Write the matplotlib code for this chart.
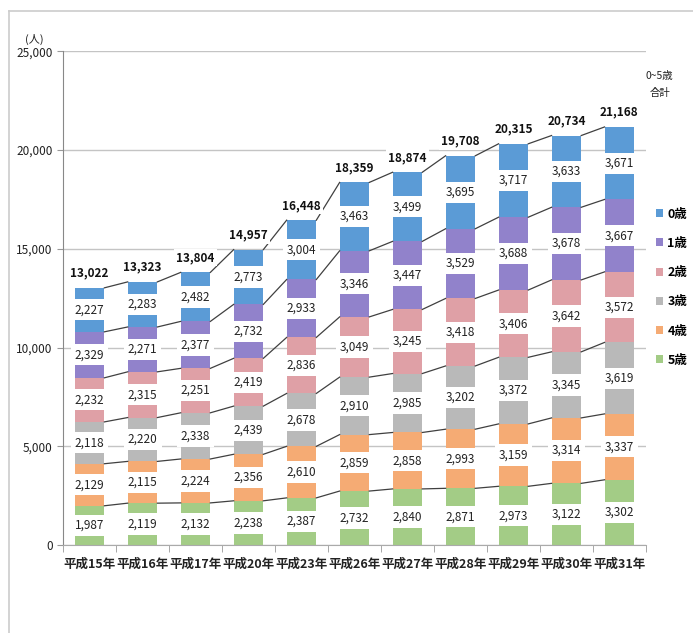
import matplotlib

matplotlib.use("Agg")
import matplotlib.pyplot as plt
from matplotlib.lines import Line2D
from matplotlib.ticker import FuncFormatter, MultipleLocator
import numpy as np

plt.rcParams["font.family"] = ["Noto Sans CJK JP", "DejaVu Sans"]

# ---------------------------------------------------------------------------
# Data (children by age, stacked bottom -> top: 5歳 ... 0歳)
# ---------------------------------------------------------------------------
years = ["平成15年", "平成16年", "平成17年", "平成20年", "平成23年", "平成26年",
         "平成27年", "平成28年", "平成29年", "平成30年", "平成31年"]

age5 = [1987, 2119, 2132, 2238, 2387, 2732, 2840, 2871, 2973, 3122, 3302]
age4 = [2129, 2115, 2224, 2356, 2610, 2859, 2858, 2993, 3159, 3314, 3337]
age3 = [2118, 2220, 2338, 2439, 2678, 2910, 2985, 3202, 3372, 3345, 3619]
age2 = [2232, 2315, 2251, 2419, 2836, 3049, 3245, 3418, 3406, 3642, 3572]
age1 = [2329, 2271, 2377, 2732, 2933, 3346, 3447, 3529, 3688, 3678, 3667]
age0 = [2227, 2283, 2482, 2773, 3004, 3463, 3499, 3695, 3717, 3633, 3671]

series_names = ["5歳", "4歳", "3歳", "2歳", "1歳", "0歳"]
series_vals = [age5, age4, age3, age2, age1, age0]
colors = ["#a3cc86", "#f5ab74", "#b9b9b9", "#dfa0a6", "#9182cb", "#5b9bd6"]

# ---------------------------------------------------------------------------
# Plot
# ---------------------------------------------------------------------------
fig = plt.figure(figsize=(6.93, 6.33), dpi=100)
ax = fig.add_axes([0.091, 0.139, 0.841, 0.780])

x = np.arange(len(years))
width = 0.56
bottom = np.zeros(len(years))
handles = []

for name, vals, color in zip(series_names, series_vals, colors):
    vals = np.array(vals)
    bars = ax.bar(x, vals, width, bottom=bottom, color=color, zorder=2, label=name)
    handles.append(bars)
    for xi, b, v in zip(x, bottom, vals):
        ax.text(xi, b + v / 2, f"{v:,}", ha="center", va="center",
                fontsize=8.5, color="#222222", zorder=5,
                bbox=dict(boxstyle="square,pad=0.35", fc="white", ec="none"))
    bottom = bottom + vals
    # series lines between bars
    for i in range(len(x) - 1):
        ax.plot([x[i] + width / 2, x[i + 1] - width / 2],
                [bottom[i], bottom[i + 1]],
                color="#404040", lw=0.9, zorder=3)

totals = bottom
for xi, t in zip(x, totals):
    ax.text(xi, t + 750, f"{int(t):,}", ha="center", va="center",
            fontsize=8.5, fontweight="bold", color="#111111", zorder=5,
            bbox=dict(boxstyle="square,pad=0.2", fc="white", ec="none"))

# --- Axes formatting --------------------------------------------------------
ax.set_xlim(-0.5, len(years) - 0.5)
ax.set_ylim(0, 25000)
ax.yaxis.set_major_locator(MultipleLocator(5000))
ax.yaxis.set_major_formatter(FuncFormatter(lambda v, _: f"{int(v):,}"))
ax.set_xticks(x)
ax.set_xticklabels(years, fontsize=9, fontweight="bold", color="#222222")
ax.set_xticks(np.arange(-0.5, len(years)), minor=True)
ax.tick_params(axis="x", which="major", length=0, pad=9)
ax.tick_params(axis="x", which="minor", length=5, color="#999999")
ax.tick_params(axis="y", length=4, color="#999999", labelsize=8.5,
               labelcolor="#222222")
ax.grid(True, axis="y", color="#c4c4c4", lw=1.0, zorder=0)
ax.set_axisbelow(True)
for side in ("top", "right"):
    ax.spines[side].set_visible(False)
ax.spines["left"].set_color("#888888")
ax.spines["bottom"].set_color("#aaaaaa")

fig.text(0.05, 0.937, "(人)", fontsize=8, ha="center", va="center",
         color="#222222")

# --- Legend ----------------------------------------------------------------
ax.legend(handles=handles[::-1], loc="upper left",
          bbox_to_anchor=(0.937, 0.682), bbox_transform=fig.transFigure,
          frameon=False, handlelength=0.6, handleheight=0.6,
          handletextpad=0.35, labelspacing=1.3, borderpad=0,
          prop={"weight": "bold", "size": 9})

fig.text(0.952, 0.867, "0~5歳\n合計", fontsize=7.5, ha="center", va="center",
         color="#222222", linespacing=1.9)

# --- Frame -----------------------------------------------------------------
fig.add_artist(Line2D([0.013, 0.013], [0.0, 0.983], transform=fig.transFigure,
                      color="#cccccc", lw=1.2))
fig.add_artist(Line2D([0.013, 1.0], [0.983, 0.983], transform=fig.transFigure,
                      color="#cccccc", lw=1.2))

fig.savefig("out.png", dpi=100)
